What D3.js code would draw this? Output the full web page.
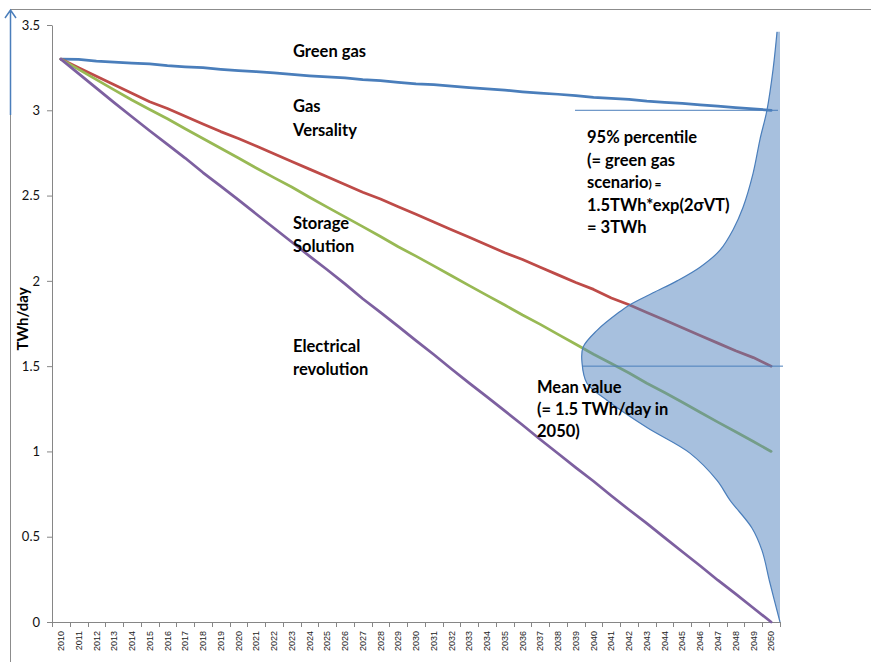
<!DOCTYPE html>
<html>
<head>
<meta charset="utf-8">
<script src="https://cdn.jsdelivr.net/npm/d3@7"></script>
<style>
  body { margin: 0; background: #fff; }
  svg { display: block; font-family: Lato, "Open Sans", sans-serif; }
</style>
</head>
<body>
<div id="chart-area"></div>
<script>
// categories
var years = d3.range(2010, 2051).map(String);

// scenario values (TWh/day)
var greenGas = [3.300, 3.298, 3.288, 3.282, 3.277, 3.272, 3.262, 3.255, 3.250, 3.240,
    3.232, 3.226, 3.220, 3.210, 3.202, 3.196, 3.190, 3.180, 3.174, 3.164,
    3.155, 3.150, 3.142, 3.133, 3.126, 3.118, 3.108, 3.100, 3.094, 3.086,
    3.076, 3.070, 3.064, 3.054, 3.047, 3.040, 3.032, 3.024, 3.016, 3.008, 3.000];
var gasVersality = [3.300, 3.250, 3.200, 3.150, 3.100, 3.050, 3.010, 2.965, 2.920, 2.875,
    2.835, 2.790, 2.745, 2.700, 2.655, 2.610, 2.565, 2.520, 2.480, 2.435,
    2.390, 2.345, 2.300, 2.255, 2.210, 2.165, 2.125, 2.080, 2.035, 1.990,
    1.950, 1.900, 1.860, 1.815, 1.770, 1.725, 1.680, 1.635, 1.590, 1.550, 1.500];
var storageSolution = [3.300, 3.240, 3.180, 3.120, 3.060, 3.005, 2.950, 2.892, 2.835, 2.777,
    2.720, 2.662, 2.605, 2.550, 2.490, 2.432, 2.375, 2.318, 2.260, 2.200,
    2.145, 2.088, 2.030, 1.972, 1.915, 1.858, 1.800, 1.745, 1.686, 1.628,
    1.570, 1.515, 1.460, 1.400, 1.345, 1.288, 1.230, 1.172, 1.115, 1.058, 1.000];
var electricalRevolution = [3.300, 3.215, 3.130, 3.045, 2.962, 2.880, 2.800, 2.720, 2.635, 2.555,
    2.475, 2.392, 2.310, 2.228, 2.145, 2.065, 1.982, 1.895, 1.815, 1.733,
    1.650, 1.568, 1.483, 1.400, 1.320, 1.238, 1.155, 1.070, 0.988, 0.905,
    0.825, 0.740, 0.658, 0.578, 0.495, 0.412, 0.330, 0.245, 0.165, 0.082, 0.000];

// distribution in 2050: level (TWh/day) and relative density
var distLevel = [0.00, 0.23, 0.42, 0.55, 0.715, 0.83, 0.99, 1.14, 1.30, 1.40, 1.52, 1.61,
    1.71, 1.82, 1.86, 1.93, 2.00, 2.08, 2.18, 2.30, 2.43, 2.63, 2.83, 3.00, 3.24, 3.46];
var distDensity = [0.000, 0.051, 0.091, 0.141, 0.253, 0.318, 0.455, 0.672, 0.874, 0.975, 1.000, 0.995,
    0.924, 0.808, 0.758, 0.641, 0.520, 0.404, 0.303, 0.237, 0.187, 0.136, 0.101, 0.066, 0.035, 0.015];

var yTicks = [0, 0.5, 1, 1.5, 2, 2.5, 3, 3.5];
var meanValue = 1.5;
var percentile95 = 3.0;

var series = [
    {name: "Green gas", values: greenGas, color: "#4a7ebb"},
    {name: "Gas Versality", values: gasVersality, color: "#be4b48"},
    {name: "Storage Solution", values: storageSolution, color: "#98b954"},
    {name: "Electrical revolution", values: electricalRevolution, color: "#7d60a0"}
];

var svg = d3.select("#chart-area")
    .append("svg")
    .attr("width", 871)
    .attr("height", 662);

// chart frame
svg.append("rect")
    .attr("x", 10.5).attr("y", 9.5)
    .attr("width", 900).attr("height", 700)
    .attr("fill", "none")
    .attr("stroke", "#8c8c8c");

var x = d3.scaleBand()
    .domain(years)
    .range([52, 780])
    .padding(0);

var y = d3.scaleLinear()
    .domain([0, 3.5])
    .range([622, 25]);

var cx = function(yr) { return x(yr) + x.bandwidth() / 2; };

// y axis
var yAxis = svg.append("g")
    .attr("transform", "translate(52,0)")
    .call(d3.axisLeft(y).tickValues(yTicks).tickSize(5).tickSizeOuter(0).tickPadding(7)
        .tickFormat(d3.format("~g")));
yAxis.selectAll("path, line").attr("stroke", "#868686");
yAxis.selectAll("text").attr("font-size", 13).attr("fill", "#111").style("font-family", "Lato");

// x axis
var xAxis = svg.append("g")
    .attr("transform", "translate(0,622)")
    .call(d3.axisBottom(x).tickSize(0).tickSizeOuter(0));
xAxis.select("path").attr("stroke", "#868686").attr("d", "M47,0.5H780");
xAxis.selectAll("text")
    .attr("transform", "rotate(-90)")
    .attr("x", -9).attr("y", 0).attr("dy", "0.35em")
    .style("text-anchor", "end")
    .attr("font-size", 9)
    .style("font-family", "Liberation Sans, Arial, sans-serif")
    .attr("fill", "#222");

var boundaries = years.map(function(d) { return x(d); }).concat([x.range()[1]]);
svg.append("g").selectAll("line")
    .data(boundaries)
    .enter().append("line")
    .attr("x1", function(d) { return Math.round(d) + 0.5; })
    .attr("x2", function(d) { return Math.round(d) + 0.5; })
    .attr("y1", 622).attr("y2", 627)
    .attr("stroke", "#868686");

// y axis title
svg.append("text")
    .attr("transform", "translate(28,319) rotate(-90)")
    .attr("text-anchor", "middle")
    .attr("font-size", 15)
    .attr("font-weight", "bold")
    .text("TWh/day");

// scenario lines
var line = d3.line()
    .x(function(d, i) { return cx(years[i]); })
    .y(function(d) { return y(d); });

svg.selectAll(".scenario")
    .data(series)
    .enter().append("path")
    .attr("class", "scenario")
    .attr("d", function(d) { return line(d.values); })
    .attr("fill", "none")
    .attr("stroke", function(d) { return d.color; })
    .attr("stroke-width", 2.75)
    .attr("stroke-linejoin", "round")
    .attr("stroke-linecap", "round");

// distribution
var dist = distLevel.map(function(v, i) { return {v: v, d: distDensity[i]}; });
var base = x.range()[1];
var dx = d3.scaleLinear().domain([0, 1]).range([base, base - 198]);

var area = d3.area()
    .curve(d3.curveCatmullRom)
    .y(function(d) { return y(d.v); })
    .x0(base)
    .x1(function(d) { return dx(d.d); });

svg.append("path")
    .attr("d", area(dist))
    .attr("fill", "#4f81bd")
    .attr("fill-opacity", 0.5);

svg.append("path")
    .attr("d", d3.line().curve(d3.curveCatmullRom)
        .x(function(d) { return dx(d.d); })
        .y(function(d) { return y(d.v); })(dist))
    .attr("fill", "none")
    .attr("stroke", "#4a7ebb")
    .attr("stroke-width", 1.2);

// mean and percentile markers
svg.append("line")
    .attr("x1", dx(1)).attr("x2", base + 3)
    .attr("y1", y(meanValue)).attr("y2", y(meanValue))
    .attr("stroke", "#4a7ebb").attr("stroke-width", 1);
svg.append("line")
    .attr("x1", base - 205).attr("x2", base - 2)
    .attr("y1", y(percentile95)).attr("y2", y(percentile95))
    .attr("stroke", "#4a7ebb").attr("stroke-width", 1);

// blue arrow on the left edge
svg.append("path")
    .attr("d", "M10.5,115V10M5,18L10.5,10L16,18")
    .attr("fill", "none")
    .attr("stroke", "#4a7ebb")
    .attr("stroke-width", 1.5);

// annotations
function block(lines, x0, y0, step) {
    var t = svg.append("text")
        .attr("font-size", 16.5)
        .attr("font-weight", "bold")
        .attr("fill", "#000");
    lines.forEach(function(s, i) {
        t.append("tspan").attr("x", x0).attr("y", y0 + i * step).text(s);
    });
    return t;
}

block(["Green gas"], 293, 57, 24);
block(["Gas", "Versality"], 293, 112, 24);
block(["Storage", "Solution"], 293, 229, 23);
block(["Electrical", "revolution"], 293, 352, 23);
block(["Mean value", "(= 1.5 TWh/day in", "2050)"], 537, 393, 22);

var pct = block(["95% percentile", "(= green gas"], 587, 143, 22.5);
pct.append("tspan").attr("x", 587).attr("y", 188).text("scenario");
pct.append("tspan").attr("font-size", 12).text(") =");
pct.append("tspan").attr("x", 587).attr("y", 211).text("1.5TWh*exp(2\u03c3VT)");
pct.append("tspan").attr("x", 587).attr("y", 233).text("= 3TWh");
</script>
</body>
</html>
